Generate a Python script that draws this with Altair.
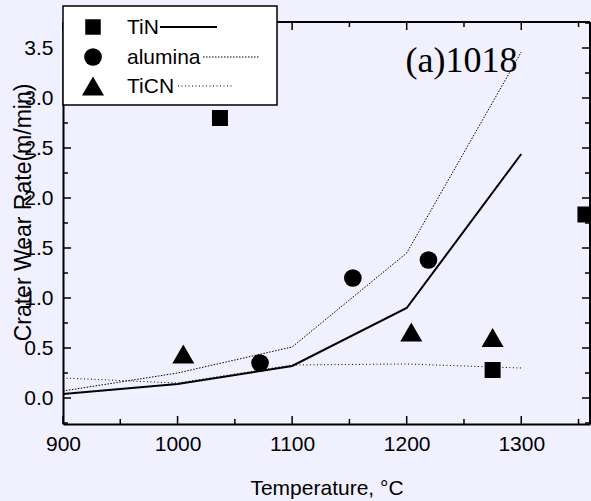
import altair as alt
import pandas as pd

# ---- data ----
series = ["TiN", "alumina", "TiCN"]

temp_tin = [1037, 1275, 1356]
rate_tin = [2.80, 0.28, 1.835]
temp_alumina = [1072, 1153, 1219]
rate_alumina = [0.35, 1.20, 1.38]
temp_ticn = [1005, 1204, 1275]
rate_ticn = [0.44, 0.66, 0.605]

line_temp = [900, 1000, 1100, 1200, 1300]
line_tin = [0.04, 0.14, 0.32, 0.90, 2.44]
line_alumina = [0.07, 0.25, 0.51, 1.45, 3.46]
line_ticn = [0.20, 0.15, 0.33, 0.34, 0.30]

x_major = [900, 1000, 1100, 1200, 1300]
x_minor = [950, 1050, 1150, 1250, 1350]
y_major = [0.0, 0.5, 1.0, 1.5, 2.0, 2.5, 3.0, 3.5]
y_minor = [-0.25, 0.25, 0.75, 1.25, 1.75, 2.25, 2.75, 3.25, 3.75]

annot_text = ["(a)1018"]
annot_x = [1199]
annot_y = [3.26]

# ---- layout / style ----
W, H = 527, 402
BG = "#F0F0FF"
SANS = "Liberation Sans"
SERIF = "Liberation Serif"

xs = alt.Scale(domain=[900, 1360], nice=False, zero=False)
ys = alt.Scale(domain=[-0.26, 3.76], nice=False, zero=False)

x_axis = alt.Axis(
    values=x_major, format="d", ticks=False, tickSize=0, grid=False,
    domainColor="black", domainWidth=2, labelFlush=False, labelOverlap=False,
    labelFont=SANS, labelFontSize=21, labelColor="black", labelPadding=9,
    title="Temperature, °C", titleFont=SANS, titleFontSize=21,
    titleFontWeight="normal", titleColor="black",
    titleX=W / 2, titleY=70, titleAlign="center", titleBaseline="alphabetic",
)
y_axis = alt.Axis(
    values=y_major, format=".1f", ticks=False, tickSize=0, grid=False,
    domainColor="black", domainWidth=2, labelOverlap=False,
    labelFont=SANS, labelFontSize=21, labelColor="black", labelPadding=10,
    title="Crater Wear Rate(m/min)", titleFont=SANS, titleFontSize=23,
    titleFontWeight="normal", titleColor="black",
    titleX=-40, titleY=190, titleAlign="center", titleBaseline="middle",
)


def X(field):
    return alt.X(f"{field}:Q", scale=xs, axis=x_axis)


def Y(field):
    return alt.Y(f"{field}:Q", scale=ys, axis=y_axis)


one = pd.DataFrame({"a": [0]})
layers = []

# lines
line_df = pd.DataFrame({"temp": line_temp, "tin": line_tin,
                        "alumina": line_alumina, "ticn": line_ticn})
layers.append(alt.Chart(line_df).mark_line(color="black", strokeWidth=2)
              .encode(x=X("temp"), y=Y("tin")))
layers.append(alt.Chart(line_df).mark_line(color="black", strokeWidth=1, strokeDash=[1.5, 1.5])
              .encode(x=X("temp"), y=Y("alumina")))
layers.append(alt.Chart(line_df).mark_line(color="black", strokeWidth=1, strokeDash=[1, 2.5])
              .encode(x=X("temp"), y=Y("ticn")))

# points
pts = [
    (temp_tin, rate_tin, "square", 256),
    (temp_alumina, rate_alumina, "circle", 314),
    (temp_ticn, rate_ticn, "triangle-up", 484),
]
for tx, ry, shp, sz in pts:
    df = pd.DataFrame({"temp": tx, "rate": ry})
    layers.append(alt.Chart(df).mark_point(shape=shp, size=sz, filled=True, color="black",
                                           opacity=1, clip=True)
                  .encode(x=X("temp"), y=Y("rate")))

# inward ticks on all four sides
for vals, ln in ((x_major, 8), (x_minor, 5)):
    d = pd.DataFrame({"t": vals})
    layers.append(alt.Chart(d).mark_rule(color="black", strokeWidth=1.5)
                  .encode(x=X("t"), y=alt.value(H), y2=alt.value(H - ln)))
    layers.append(alt.Chart(d).mark_rule(color="black", strokeWidth=1.5)
                  .encode(x=X("t"), y=alt.value(0), y2=alt.value(ln)))
for vals, ln in ((y_major, 8), (y_minor, 5)):
    d = pd.DataFrame({"t": vals})
    layers.append(alt.Chart(d).mark_rule(color="black", strokeWidth=1.5)
                  .encode(y=Y("t"), x=alt.value(0), x2=alt.value(ln)))
    layers.append(alt.Chart(d).mark_rule(color="black", strokeWidth=1.5)
                  .encode(y=Y("t"), x=alt.value(W), x2=alt.value(W - ln)))

# top and right frame
layers.append(alt.Chart(one).mark_rule(color="black", strokeWidth=2)
              .encode(x=alt.value(0), x2=alt.value(W), y=alt.value(0)))
layers.append(alt.Chart(one).mark_rule(color="black", strokeWidth=2)
              .encode(x=alt.value(W), y=alt.value(0), y2=alt.value(H)))

# annotation
ann = pd.DataFrame({"temp": annot_x, "rate": annot_y, "label": annot_text})
layers.append(alt.Chart(ann).mark_text(font=SERIF, fontSize=36, align="left",
                                       baseline="alphabetic", color="black")
              .encode(x=X("temp"), y=Y("rate"), text="label:N"))

# legend (manual)
layers.append(alt.Chart(one).mark_rect(fill="white", stroke="black", strokeWidth=1.5)
              .encode(x=alt.value(0), x2=alt.value(214), y=alt.value(-16), y2=alt.value(83)))
leg_rows = [5, 35, 64]
leg_lines = [(97, 154, None, 2), (140, 196, [1.5, 1.5], 1), (115, 170, [1, 2.5], 1)]
leg_shapes = [("square", 240), ("circle", 314), ("triangle-up", 484)]
for name, ly, (x0, x1, dash, sw), (shp, sz) in zip(series, leg_rows, leg_lines, leg_shapes):
    layers.append(alt.Chart(one).mark_point(shape=shp, size=sz, filled=True, color="black", opacity=1)
                  .encode(x=alt.value(30), y=alt.value(ly)))
    layers.append(alt.Chart(one).mark_text(font=SANS, fontSize=21, align="left",
                                           baseline="middle", color="black", text=name)
                  .encode(x=alt.value(64), y=alt.value(ly + 1)))
    rule_kw = dict(color="black", strokeWidth=sw)
    if dash:
        rule_kw["strokeDash"] = dash
    layers.append(alt.Chart(one).mark_rule(**rule_kw)
                  .encode(x=alt.value(x0), x2=alt.value(x1), y=alt.value(ly)))

chart = (
    alt.layer(*layers)
    .properties(
        width=W, height=H,
        autosize=alt.AutoSizeParams(type="none"),
        padding={"left": 63, "top": 22, "right": 1, "bottom": 77},
        background=BG,
    )
    .configure_view(strokeWidth=0)
)

chart.save("out.html", embed_options={"renderer": "svg", "actions": False})
